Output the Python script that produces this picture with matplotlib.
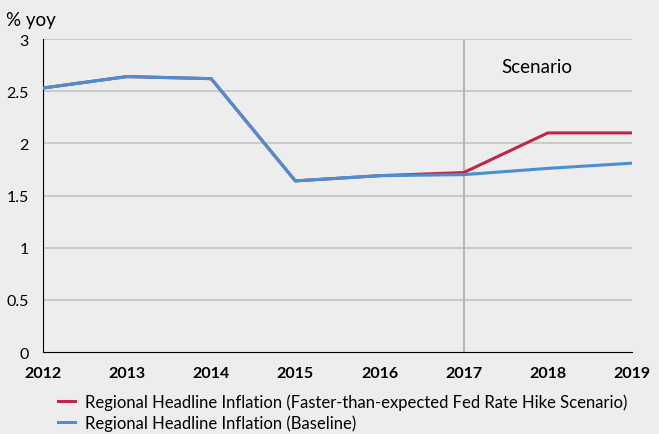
import matplotlib
matplotlib.use('Agg')
import matplotlib.pyplot as plt

years = [2012, 2013, 2014, 2015, 2016, 2017, 2018, 2019]
scenario = [2.53, 2.64, 2.62, 1.64, 1.69, 1.72, 2.10, 2.10]
baseline = [2.53, 2.64, 2.62, 1.64, 1.69, 1.70, 1.76, 1.81]
yticks = [0, 0.5, 1, 1.5, 2, 2.5, 3]
ytick_labels = ['0', '0.5', '1', '1.5', '2', '2.5', '3']

plt.rcParams['font.family'] = ['Lato', 'DejaVu Sans']
bg = '#ededed'

fig = plt.figure(figsize=(6.59, 4.35), dpi=100, facecolor=bg)
ax = fig.add_axes([0.065, 0.1885, 0.894, 0.7195], facecolor=bg)

for y in yticks[1:]:
    ax.axhline(y, color='#c4c4c4', linewidth=1.2, zorder=1)
ax.axvline(2017, color='#b8b8b8', linewidth=1.5, zorder=1)

ax.plot(years, scenario, color='#c0254a', linewidth=2.2, zorder=3,
        label='Regional Headline Inflation (Faster-than-expected Fed Rate Hike Scenario)')
ax.plot(years, baseline, color='#4a8fd6', linewidth=2.2, zorder=4,
        label='Regional Headline Inflation (Baseline)')

ax.text(2017.87, 2.74, 'Scenario', fontsize=13.5, ha='center', va='center')

ax.set_xlim(2012, 2019)
ax.set_ylim(0, 3)
ax.set_xticks(years)
ax.set_xticklabels([str(y) for y in years], fontsize=11.5, fontweight='bold')
ax.set_yticks(yticks)
ax.set_yticklabels(ytick_labels, fontsize=11.5)
ax.tick_params(axis='x', length=0, pad=10)
ax.tick_params(axis='y', length=0, pad=10)

for s in ['top', 'right']:
    ax.spines[s].set_visible(False)
ax.spines['left'].set_color('black')
ax.spines['bottom'].set_color('black')

ax.text(-0.062, 1.035, '% yoy', transform=ax.transAxes, fontsize=13.5, ha='left', va='bottom')

ax.legend(loc='upper left', bbox_to_anchor=(0.015, -0.11), frameon=False, fontsize=12,
          handlelength=1.0, handletextpad=0.6, labelspacing=0.3, borderaxespad=0)

fig.savefig('out.png', dpi=100, facecolor=bg)
